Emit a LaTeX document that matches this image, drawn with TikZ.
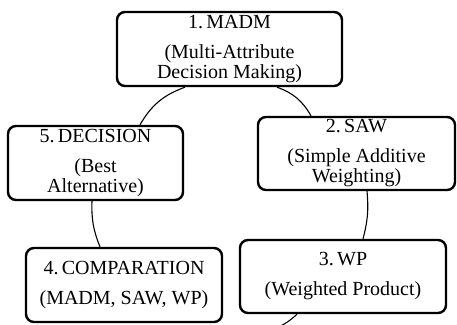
\documentclass[tikz,border=0pt]{standalone}
\usepackage{fontspec}
\setmainfont{Liberation Serif}

\begin{document}
\begin{tikzpicture}[x=1pt,y=-1pt]
    \tikzset{BoxStyle/.style = {shape           = rectangle,
                                rounded corners = 8pt,
                                draw,
                                line width      = 2.4pt,
                                fill            = white,
                                align           = center,
                                inner sep       = 0pt,
                                font            = \fontsize{20}{20}\selectfont}}
    \tikzset{EdgeStyle/.style = {line width      = 1.1pt,
                                 bend left       = 20}}
    \useasboundingbox (0,0) rectangle (457,324);
    \node[BoxStyle, minimum width = 225pt, minimum height = 74pt] (MADM) at (229.5,49)
        {1.\,MADM\\[10pt](Multi-Attribute\\Decision Making)};
    \node[BoxStyle, minimum width = 197pt, minimum height = 73pt] (SAW) at (356.5,153.5)
        {2.\,SAW\\[10pt](Simple Additive\\Weighting)};
    \node[BoxStyle, minimum width = 206pt, minimum height = 73pt] (WP) at (343,276.5)
        {3.\,WP\\[10pt](Weighted Product)};
    \node[BoxStyle, minimum width = 196pt, minimum height = 74pt] (COMP) at (124,285)
        {4.\,COMPARATION\\[10pt](MADM, SAW, WP)};
    \node[BoxStyle, minimum width = 175pt, minimum height = 74pt] (DECISION) at (95.5,163)
        {5.\,DECISION\\[10pt](Best\\Alternative)};
    \coordinate (cut) at (255,332);
    % the cycle, clockwise
    \draw[EdgeStyle] ([xshift=47.5pt]MADM.south) to ([xshift=-45.5pt]SAW.north);
    \draw[EdgeStyle, bend left = 10] ([xshift=10.5pt]SAW.south) to ([xshift=20pt]WP.north);
    \draw[EdgeStyle] ([xshift=-46pt]WP.south) to (cut);
    \draw[EdgeStyle, bend left = 12] ([xshift=-24pt]COMP.north) to ([xshift=-3.5pt]DECISION.south);
    \draw[EdgeStyle] ([xshift=44.5pt]DECISION.north) to ([xshift=-44.5pt]MADM.south);
\end{tikzpicture}
\end{document}
